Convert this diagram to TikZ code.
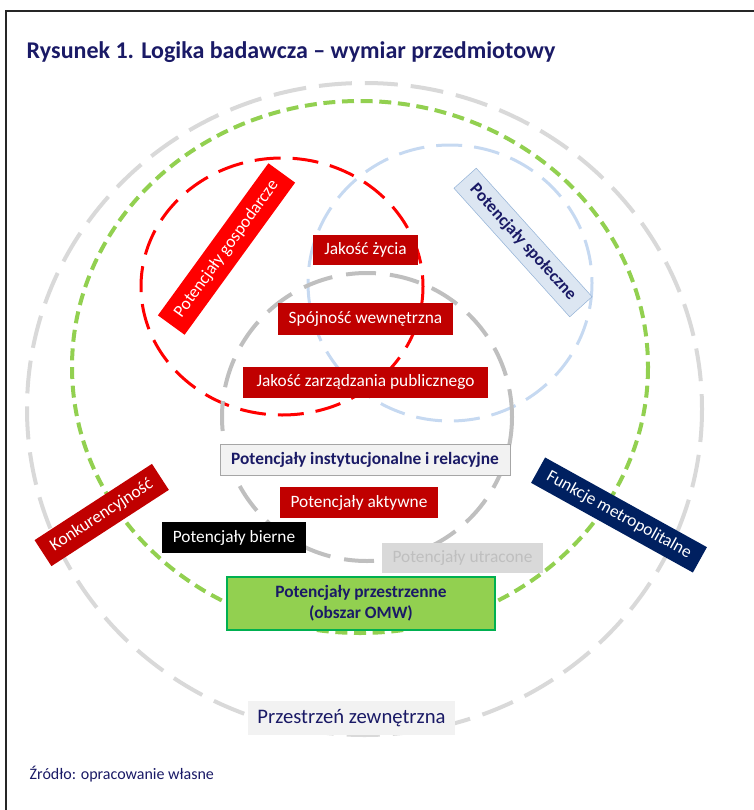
\documentclass[tikz,border=0pt]{standalone}
\usepackage{fontspec}
\setmainfont{Carlito}
\usepackage{tikz}
\usetikzlibrary{calc}
\definecolor{granat}{HTML}{1A1A66}
\definecolor{ciemnoczerw}{HTML}{C00000}
\definecolor{jasnoszary}{HTML}{D9D9D9}
\definecolor{sredniszary}{HTML}{BFBFBF}
\definecolor{tloszare}{HTML}{F2F2F2}
\definecolor{zielen}{HTML}{92D050}
\definecolor{ramkazielen}{HTML}{00B050}
\definecolor{blekit}{HTML}{C6D9F1}
\definecolor{tloblekit}{HTML}{DCE6F2}
\definecolor{ramkablekit}{HTML}{95B3D7}
\definecolor{ciemnygranat}{HTML}{002060}
\newcommand{\NazwaGosp}{Potencjały gospodarcze}
\newcommand{\NazwaSpol}{Potencjały społeczne}
\newcommand{\NazwaKonk}{Konkurencyjność}
\newcommand{\NazwaFunk}{Funkcje metropolitalne}
\newcommand{\Rozmiar}{\fontsize{13}{15.5}\selectfont}

\begin{document}
\begin{tikzpicture}[x=0.75pt,y=-0.75pt,node distance=50pt,
    etykieta/.style={inner sep=0pt,text=white,font=\Rozmiar},
    czerwona/.style={etykieta,fill=ciemnoczerw},
    okragzew/.style={draw=jasnoszary,line width=3pt,dash pattern=on 24.75pt off 9.75pt},
    okragzew2/.style={draw=sredniszary,line width=3pt,dash pattern=on 22.5pt off 10.5pt},
    okragomw/.style={draw=zielen,line width=3pt,dash pattern=on 9pt off 5pt},
    okraggosp/.style={draw=red,line width=2.25pt,dash pattern=on 19.5pt off 9pt},
    okragspol/.style={draw=blekit,line width=2.25pt,dash pattern=on 19.5pt off 9pt}]

  \useasboundingbox (0,0) rectangle (753,810);
  % ramka (tylko lewa i gorna krawedz)
  \draw[line width=1.5pt,black!85] (6,812) -- (6,11) -- (755,11);

  \node[anchor=west,text=granat,font=\fontsize{18}{21}\selectfont\bfseries] (tytul) at (22,52)
    {Rysunek 1. Logika badawcza – wymiar przedmiotowy};

  % kola
  \coordinate (szew) at (364.5,409);
  \coordinate (somw) at (360,367);
  \coordinate (sgosp) at (282,286.5);
  \coordinate (sspol) at (450,283);
  \coordinate (swew) at (367,417);

  \draw[okragzew] (szew) ellipse [x radius=337.5, y radius=326];
  \draw[okragomw] (somw) ellipse [x radius=288, y radius=266];
  \draw[okragspol] (sspol) ellipse [x radius=142, y radius=138];
  \draw[okraggosp] (sgosp) ellipse [x radius=141, y radius=128.5];
  \draw[okragzew2] (swew) ellipse [x radius=145, y radius=144];

  % etykiety w srodku
  \node[czerwona,minimum width=78.75pt,minimum height=22.5pt] (jz) at (365.5,250) {Jakość życia};
  \node[czerwona,minimum width=131.25pt,minimum height=24pt,node distance=51.75pt] (sw) [below of=jz] {Spójność wewnętrzna};
  \node[czerwona,minimum width=183.75pt,minimum height=23.25pt,node distance=47.6pt] (jzp) [below of=sw] {Jakość zarządzania publicznego};
  \node[etykieta,fill=tloszare,draw=gray!70,text=granat,font=\Rozmiar\bfseries,
        minimum width=217.5pt,minimum height=23.25pt] (pir) at (365,460) {Potencjały instytucjonalne i relacyjne};
  \node[czerwona,minimum width=118.5pt,minimum height=23.25pt] (pa) at (359,502.5) {Potencjały aktywne};
  \node[etykieta,fill=black,minimum width=108pt,minimum height=23.25pt] (pb) at (234,537.5) {Potencjały bierne};
  \node[etykieta,fill=jasnoszary,text=sredniszary,minimum width=120.75pt,minimum height=22.5pt] (pu) at (462.5,558) {Potencjały utracone};
  \node[etykieta,fill=zielen,draw=ramkazielen,line width=0.8pt,text=granat,font=\Rozmiar\bfseries,align=center,
        minimum width=201pt,minimum height=39.75pt] (pp) at (361,603.5) {Potencjały przestrzenne\\(obszar OMW)};
  \node[etykieta,fill=tloszare,text=granat,font=\fontsize{15.5}{18}\selectfont,
        minimum width=155.25pt,minimum height=25.5pt] (pz) at (351.5,718) {Przestrzeń zewnętrzna};

  % etykiety obrocone
  \node[etykieta,fill=red,rotate=54,minimum width=141pt,minimum height=24.75pt] (gosp) at (226.5,249) {\NazwaGosp};
  \node[etykieta,fill=tloblekit,draw=ramkablekit,text=granat,font=\Rozmiar\bfseries,rotate=-48,
        minimum width=129.75pt,minimum height=22.5pt] (spol) at (523,242.5) {\NazwaSpol};
  \node[czerwona,rotate=33,minimum width=105pt,minimum height=23.25pt] (konk) at (101.7,515) {\NazwaKonk};
  \node[etykieta,fill=ciemnygranat,rotate=-29,minimum width=138.75pt,minimum height=21.75pt] (funk) at (619,515) {\NazwaFunk};

  \node[anchor=west,text=granat,font=\fontsize{12}{14}\selectfont] (zrodlo) at (25,774) {Źródło: opracowanie własne};
\end{tikzpicture}
\end{document}
